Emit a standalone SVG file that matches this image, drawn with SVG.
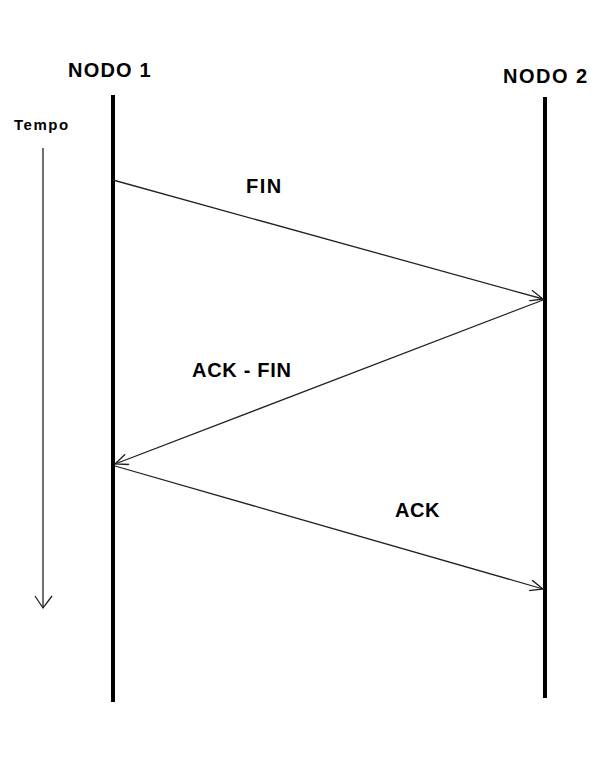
<svg xmlns="http://www.w3.org/2000/svg" width="612" height="765" viewBox="0 0 612 765">
<style>
.t{font-family:"Liberation Sans",Arial,sans-serif;font-weight:bold;fill:#000}
.life{stroke:#000;stroke-width:4}
.msg{stroke:#222;stroke-width:1.3;fill:none}
</style>
<defs>
<marker id="ah" markerWidth="16" markerHeight="12" refX="14" refY="6" orient="auto" markerUnits="userSpaceOnUse">
<path d="M1,0.5 L14,6 L1,11.5" fill="none" stroke="#222" stroke-width="1.3"/>
</marker>
</defs>
<rect width="612" height="765" fill="#fff"/>
<g id="nodo1">
<text class="t" x="68" y="77" font-size="20" letter-spacing="1.2">NODO 1</text>
<line class="life" x1="113" y1="95" x2="113" y2="702"/>
</g>
<g id="nodo2">
<text class="t" x="503" y="83" font-size="20" letter-spacing="1.5">NODO 2</text>
<line class="life" x1="545" y1="97" x2="545" y2="698"/>
</g>
<g id="tempo">
<text class="t" x="14" y="130" font-size="15" letter-spacing="1.5">Tempo</text>
<line class="msg" x1="43" y1="148" x2="43" y2="608"/>
<path class="msg" d="M35,596 L43,608 L52,596"/>
</g>
<g id="connectors">
<line class="msg" x1="113" y1="180" x2="543" y2="299" marker-end="url(#ah)"/>
<line class="msg" x1="543" y1="300" x2="115" y2="464" marker-end="url(#ah)"/>
<line class="msg" x1="115" y1="466" x2="543" y2="589" marker-end="url(#ah)"/>
</g>
<g id="labels">
<text class="t" x="246" y="193" font-size="20" letter-spacing="1.5">FIN</text>
<text class="t" x="192" y="377" font-size="20" letter-spacing="0.7">ACK - FIN</text>
<text class="t" x="395" y="517" font-size="20" letter-spacing="0.5">ACK</text>
</g>
</svg>
